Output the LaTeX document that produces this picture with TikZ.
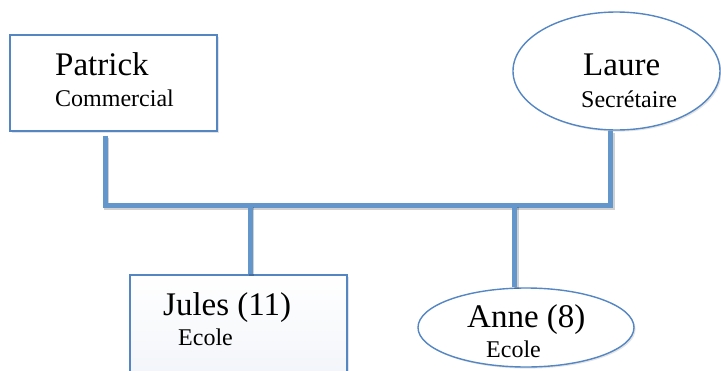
\documentclass[tikz,border=0pt]{standalone}
\usepackage{fontspec}
\setmainfont{Liberation Serif}
\usetikzlibrary{shapes.geometric,shadows}

\definecolor{edgeblue}{RGB}{84,134,196}
\definecolor{linkblue}{RGB}{99,150,202}
\definecolor{softfill}{RGB}{241,244,249}

\tikzset{
  person/.style={draw=edgeblue, line width=1.4pt, fill=white, inner sep=0pt,
    drop shadow={shadow xshift=1.6pt, shadow yshift=-1.6pt, opacity=0.22}},
  boxnode/.style={person, rectangle},
  ovalnode/.style={person, ellipse},
  bigname/.style={inner sep=0pt, anchor=base west, font=\fontsize{33}{36}\selectfont},
  role/.style={inner sep=0pt, anchor=base west, font=\fontsize{24}{27}\selectfont},
  link/.style={draw=linkblue, line width=5pt, line join=miter,
    preaction={draw=black, opacity=0.18, line width=5pt,
      transform canvas={shift={(1.8pt,-1.8pt)}}}}
}

\begin{document}
\begin{tikzpicture}[x=1pt,y=-1pt]
  \useasboundingbox (0,0) rectangle (721,370);

  % parents
  \node[boxnode, minimum width=207pt, minimum height=96pt] (patrick) at (113.5,83) {};
  \node[ovalnode, minimum width=207pt, minimum height=118pt] (laure) at (616.5,71) {};

  % children
  \node[boxnode, minimum width=217pt, minimum height=110pt,
        top color=white, bottom color=softfill] (jules) at (238.5,330) {};
  \node[ovalnode, minimum width=216pt, minimum height=79pt] (anne) at (526,327.5) {};

  % labels
  \node[bigname] (patrickname) at (55,75) {Patrick};
  \node[role] (patrickrole) at (55,106) {Commercial};
  \node[bigname] (laurename) at (583,75) {Laure};
  \node[role] (laurerole) at (581,107) {Secrétaire};
  \node[bigname] (julesname) at (163,315) {Jules (11)};
  \node[role] (julesrole) at (178,345) {Ecole};
  \node[bigname] (annename) at (467,327) {Anne (8)};
  \node[role] (annerole) at (486,357) {Ecole};

  % family lines
  \coordinate (busL) at (105,205.5);
  \coordinate (busR) at (610.5,205.5);
  \coordinate (dropJ) at (250,205.5);
  \coordinate (dropA) at (514.5,205.5);

  \draw[link] ([yshift=-4pt]patrick.south -| busL) -- (busL) -- (busR) -- (laure.south -| busR);
  \draw[link] (dropJ) -- (dropJ |- jules.north);
  \draw[link] (dropA) -- (dropA |- anne.north);
\end{tikzpicture}
\end{document}
